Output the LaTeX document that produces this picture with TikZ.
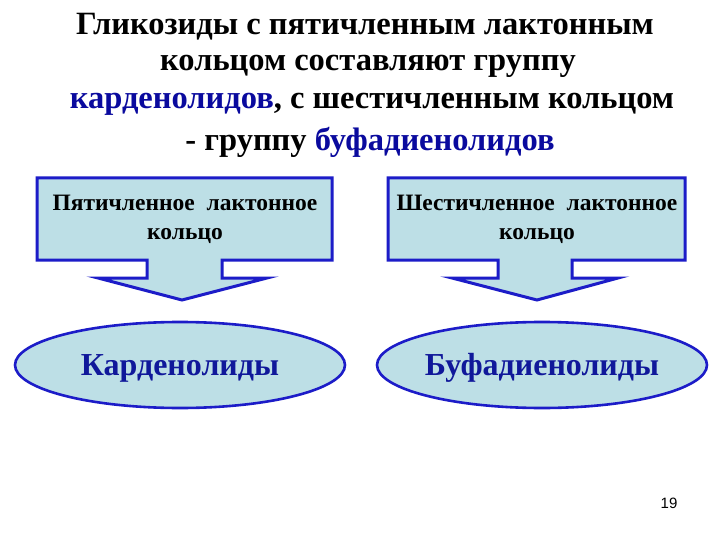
\documentclass[tikz,border=0pt]{standalone}
\usepackage{fontspec}
\setmainfont{Liberation Serif}
\setsansfont{Liberation Sans}
\usetikzlibrary{shapes.geometric}
\definecolor{boxfill}{HTML}{BDDFE6}
\definecolor{boxline}{HTML}{1C1CC8}
\definecolor{navy}{HTML}{10189A}
\definecolor{titleblue}{HTML}{0A0A9E}
\tikzset{
  callout/.style={fill=boxfill, draw=boxline, line width=3pt, line join=miter},
  calltext/.style={font=\fontsize{23.5}{29}\selectfont\bfseries, align=center, text=black},
  oval/.style={ellipse, fill=boxfill, draw=boxline, line width=2.6pt, minimum width=330pt, minimum height=86pt, inner sep=0pt},
  ovaltext/.style={font=\fontsize{32}{34}\selectfont\bfseries, text=navy},
  titletext/.style={font=\fontsize{32.5}{38.5}\selectfont\bfseries, align=center, text=black}
}
\begin{document}
\begin{tikzpicture}[x=1pt,y=-1pt]
\useasboundingbox (0,0) rectangle (720,540);
\fill[white] (0,0) rectangle (720,540);
% title
\node[titletext] (t1) at (365,27) {Гликозиды с пятичленным лактонным};
\node[titletext] (t2) at (368,66) {кольцом составляют группу};
\node[titletext] (t3) at (372,104) {\textcolor{titleblue}{карденолидов}, с шестичленным кольцом};
\node[titletext] (t4) at (370,142) {- группу \textcolor{titleblue}{буфадиенолидов}};
% left callout
\draw[callout] (37,178) -- (332,178) -- (332,260) -- (222,260) -- (222,278) -- (267,278) -- (182,300) -- (98,278) -- (147,278) -- (147,260) -- (37,260) -- cycle;
\node[calltext] (l1) at (185,219) {Пятичленное\ \ лактонное\\кольцо};
% right callout
\draw[callout] (388,178) -- (685,178) -- (685,260) -- (572,260) -- (572,278) -- (618,278) -- (537,300) -- (452,278) -- (498,278) -- (498,260) -- (388,260) -- cycle;
\node[calltext] (r1) at (537,219) {Шестичленное\ \ лактонное\\кольцо};
% ellipses
\node[oval] (e1) at (180,365) {};
\node[ovaltext] at ([yshift=-3pt]e1.center) {Карденолиды};
\node[oval] (e2) at (542,365) {};
\node[ovaltext] at ([yshift=-3pt]e2.center) {Буфадиенолиды};
% page number
\node[font=\sffamily\fontsize{15}{17}\selectfont] (pn) at (669,503) {19};
\end{tikzpicture}
\end{document}
